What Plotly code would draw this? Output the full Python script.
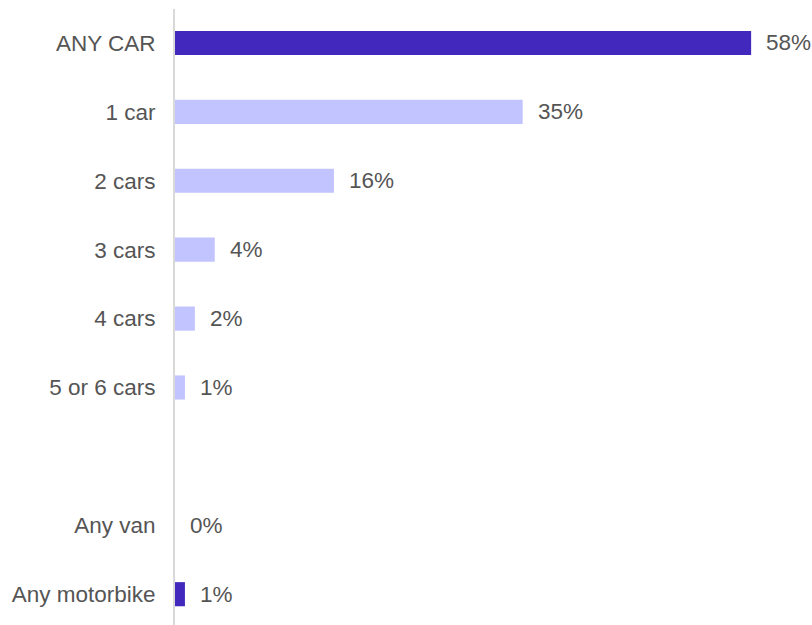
import plotly.graph_objects as go

# Share of households owning each kind of vehicle (%)
categories = ["ANY CAR", "1 car", "2 cars", "3 cars", "4 cars", "5 or 6 cars",
              "Any van", "Any motorbike"]
values = [58, 35, 16, 4, 2, 1, 0, 1]
summary_rows = {"ANY CAR", "Any van", "Any motorbike"}

DARK = "#4328BD"
LIGHT = "#C1C4FF"
TEXT = "#555555"
FONT = "Liberation Sans, Arial, sans-serif"

# blank spacer row between the car counts and the other vehicles
row_order = categories[:6] + [" "] + categories[6:]

colors = [DARK if c in summary_rows else LIGHT for c in categories]

fig = go.Figure(
    go.Bar(
        x=values,
        y=categories,
        orientation="h",
        marker=dict(color=colors, line=dict(width=0)),
        width=0.35,
        hoverinfo="skip",
    )
)

for c, v in zip(categories, values):
    fig.add_annotation(
        x=v, y=c, text=f"{v}%", showarrow=False,
        xanchor="left", yanchor="middle", xshift=13,
        font=dict(family=FONT, size=22.5, color=TEXT),
    )

fig.update_layout(
    width=812, height=625,
    margin=dict(l=175, r=41, t=9, b=0),
    paper_bgcolor="white", plot_bgcolor="white",
    showlegend=False,
    font=dict(family=FONT, size=22.5, color=TEXT),
)
fig.update_xaxes(
    range=[0, 60], showgrid=False, zeroline=False, showline=False,
    showticklabels=False, ticks="",
)
fig.update_yaxes(
    type="category", categoryorder="array", categoryarray=row_order,
    tickvals=row_order, ticktext=row_order,
    range=[8.447, -0.493], showgrid=False, zeroline=False,
    showline=True, linecolor="#D9D9D9", linewidth=2,
    ticks="", ticklabelstandoff=13,
    tickfont=dict(family=FONT, size=22.5, color=TEXT),
)

fig.write_html("out.html")
